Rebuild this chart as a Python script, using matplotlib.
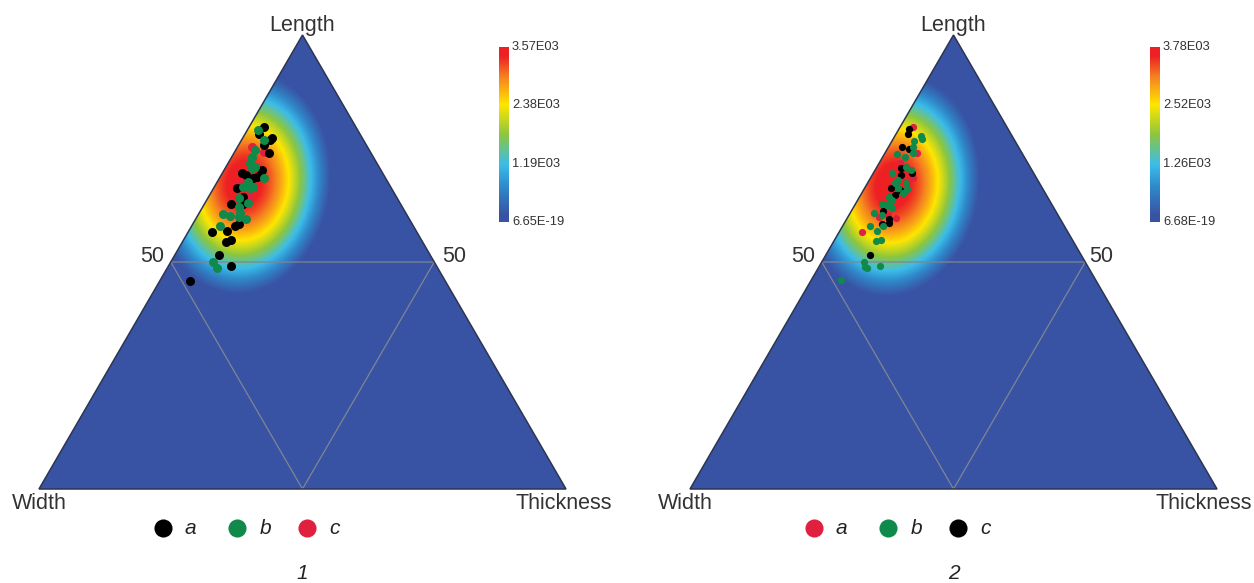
import numpy as np
import matplotlib
matplotlib.use('Agg')
import matplotlib.pyplot as plt
from matplotlib.colors import LinearSegmentedColormap
from matplotlib.patches import Polygon

plt.rcParams['font.family'] = ['Liberation Sans', 'DejaVu Sans']

# Ternary readings, percent of Length and Thickness (Width is the rest)
p1_a_length = [79.8, 78.1, 77.3, 76.8, 73.9, 75.8, 69.7, 70.3, 68.8, 66.2, 62.7, 62.8, 57.9, 58.4, 56.7, 56.9, 54.5, 54.9, 51.5, 49.1, 45.8, 68.4, 64.4, 69.1, 69.1]
p1_a_thick = [2.7, 2.7, 5.5, 5.4, 6.6, 4.7, 3.7, 7.2, 6.9, 4.5, 5.0, 7.3, 8.2, 8.8, 4.5, 7.3, 8.3, 8.9, 8.5, 11.8, 5.8, 6.5, 6.6, 7.4, 4.8]
p1_b_length = [79.1, 76.8, 74.6, 73.2, 71.7, 71.0, 68.4, 67.7, 66.6, 66.6, 66.2, 64.0, 62.2, 60.6, 60.2, 60.0, 59.5, 58.0, 49.9, 48.7, 70.6, 60.7, 62.9]
p1_b_thick = [2.1, 4.2, 3.7, 3.8, 4.2, 5.4, 8.4, 5.9, 5.4, 7.3, 6.9, 5.9, 6.8, 4.7, 6.2, 7.9, 9.6, 5.3, 8.1, 9.4, 5.1, 7.8, 8.3]
p1_c_length = [75.4, 74.3, 67.7, 64.4]
p1_c_thick = [2.7, 5.5, 4.6, 7.6]

p2_a_length = [79.8, 74.1, 71.8, 68.4, 60.0, 59.7, 56.7, 60.4]
p2_a_thick = [2.5, 6.1, 3.9, 8.2, 5.8, 9.3, 4.3, 7.4]
p2_b_length = [77.7, 77.1, 76.7, 75.4, 74.1, 73.7, 73.1, 71.0, 70.3, 69.5, 68.1, 67.4, 67.4, 66.0, 65.2, 64.4, 63.6, 62.8, 62.6, 61.9, 60.7, 60.4, 58.0, 56.9, 57.9, 54.6, 54.8, 49.9, 48.8, 48.7, 49.2, 46.0, 66.4, 62.9]
p2_b_thick = [4.9, 5.4, 4.1, 4.6, 5.3, 2.5, 4.2, 5.4, 6.7, 3.6, 5.5, 5.2, 7.3, 8.2, 7.9, 5.5, 6.5, 5.0, 6.0, 7.3, 4.6, 6.3, 5.1, 7.1, 7.7, 8.0, 8.8, 8.0, 8.8, 9.3, 11.5, 5.6, 6.3, 6.5]
p2_c_length = [79.4, 78.1, 75.4, 74.9, 70.6, 69.1, 69.5, 66.2, 65.9, 64.8, 61.2, 59.4, 58.6, 51.6, 58.4]
p2_c_thick = [1.9, 2.4, 2.6, 4.1, 4.7, 5.4, 7.4, 5.1, 6.9, 6.5, 6.1, 8.0, 8.4, 8.3, 7.2]

p1_ticks = ['6.65E-19', '1.19E03', '2.38E03', '3.57E03']
p2_ticks = ['6.68E-19', '1.26E03', '2.52E03', '3.78E03']

BLACK, GREEN, RED = '#000000', '#0f8a4a', '#e0203f'
W, H = 1254, 583

cmap = LinearSegmentedColormap.from_list('density', [
    (0.0, '#3953a4'), (0.04, '#3953a4'), (0.2, '#2f8acb'), (0.33, '#3cbde9'),
    (0.5, '#8cc63f'), (0.67, '#ffe600'), (0.83, '#f58220'), (0.95, '#ed2024'), (1.0, '#ed2024')])


def to_xy(length, thick):
    length = np.asarray(length)
    return np.asarray(thick) + length / 2, length


def density(xs, ys):
    # one smooth bump around the centre of the points
    gx, gy = np.meshgrid(np.linspace(0, 100, 600), np.linspace(0, 100, 600))
    dy = gy - ys.mean() - 2.0
    dx = gx - xs.mean() - 0.05 * dy
    u2 = (dx / 17.5) ** 2 + (dy / 26.0) ** 2
    return np.where(u2 < 1, np.clip(1 - u2, 0, 1) ** 1.5, 0)


def panel(left, series, ticks, names, caption, size, width_x, thick_x, right50_x):
    ax = fig.add_axes([left / W, (H - 489) / H, 527 / W, 454 / H])
    ax.set_xlim(0, 100)
    ax.set_ylim(0, 100)
    ax.axis('off')

    xs = np.concatenate([to_xy(l, t)[0] for l, t, c in series])
    ys = np.concatenate([to_xy(l, t)[1] for l, t, c in series])
    tri = Polygon([(0, 0), (50, 100), (100, 0)], closed=True, transform=ax.transData,
                  facecolor='none', edgecolor='#2c3550', lw=1.1, zorder=3, clip_on=False)
    im = ax.imshow(density(xs, ys), extent=(0, 100, 0, 100), origin='lower', cmap=cmap,
                   vmin=0, vmax=1, aspect='auto', interpolation='bilinear', zorder=1)
    ax.add_patch(tri)
    im.set_clip_path(tri)

    # inner triangle through the 50 marks
    ax.plot([25, 75, 50, 25], [50, 50, 0, 50], color='#7f8595', lw=0.9, zorder=2)

    for length, thick, color in series:
        x, y = to_xy(length, thick)
        ax.scatter(x, y, s=size, color=color, linewidths=0, zorder=4)

    label = dict(color='#333333', fontsize=15.5, clip_on=False)
    ax.text(50, 100.9, 'Length', ha='center', va='baseline', **label)
    ax.text(width_x, -3.3, 'Width', ha='left', va='center', **label)
    ax.text(thick_x, -3.3, 'Thickness', ha='right', va='center', **label)
    ax.text(23.8, 51.3, '50', ha='right', va='center', **label)
    ax.text(right50_x, 51.3, '50', ha='left', va='center', **label)

    # legend row under the triangle
    for (name, color), mx in zip(names, (23.5, 37.6, 50.9)):
        ax.scatter([mx], [-8.6], s=170, color=color, linewidths=0, clip_on=False)
        ax.text(mx + 4.2, -8.6, name, style='italic', fontsize=15, color='#222222',
                ha='left', va='center')
    ax.text(50, -18.7, caption, style='italic', fontsize=15, color='#222222',
            ha='center', va='center')

    # colour bar
    cax = fig.add_axes([(left + 460) / W, (H - 222) / H, 10 / W, 175 / H])
    cax.imshow(np.linspace(0, 1, 256).reshape(-1, 1), cmap=cmap, origin='lower',
               aspect='auto', extent=(0, 1, 0, 1))
    cax.axis('off')
    for pos, tick in zip(np.linspace(0, 1, len(ticks)), ticks):
        cax.text(1.3, pos, tick, transform=cax.transAxes, fontsize=9.3, color='#333333',
                 ha='left', va='center')


fig = plt.figure(figsize=(W / 100, H / 100), dpi=100)

panel(39,
      [(p1_c_length, p1_c_thick, RED), (p1_a_length, p1_a_thick, BLACK), (p1_b_length, p1_b_thick, GREEN)],
      p1_ticks, [('a', BLACK), ('b', GREEN), ('c', RED)], '1', 42, -5.1, 108.7, 76.5)
panel(690,
      [(p2_a_length, p2_a_thick, RED), (p2_c_length, p2_c_thick, BLACK), (p2_b_length, p2_b_thick, GREEN)],
      p2_ticks, [('a', RED), ('b', GREEN), ('c', BLACK)], '2', 27, -6.1, 106.6, 75.8)

fig.savefig('out.png', dpi=100)
